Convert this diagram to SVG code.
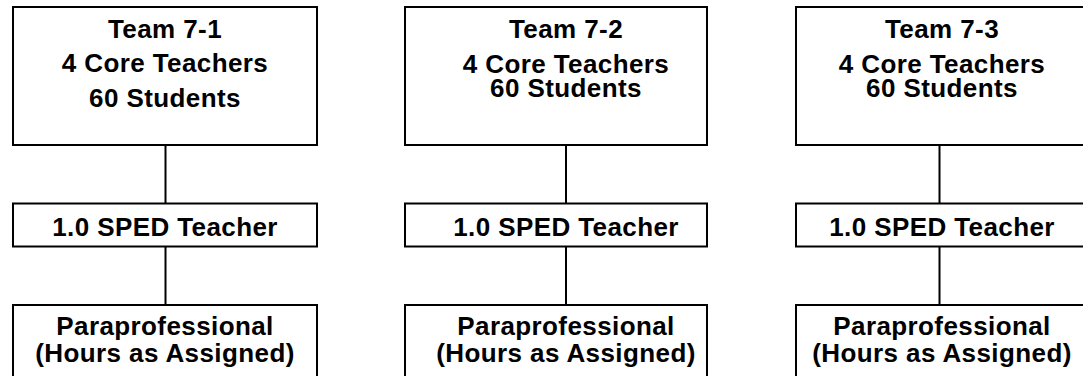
<svg xmlns="http://www.w3.org/2000/svg" width="1083" height="376" viewBox="0 0 1083 376">
<style>
.box{fill:#fff;stroke:#000;stroke-width:2}
.ln{stroke:#000;stroke-width:2;fill:none}
text{font-family:"Liberation Sans",Arial,sans-serif;font-weight:bold;font-size:26px;letter-spacing:0.4px;fill:#000;text-anchor:middle}
</style>
<rect width="1083" height="376" fill="#fff"/>
<g id="connectors">
<line class="ln" x1="165.5" y1="145" x2="165.5" y2="204"/>
<line class="ln" x1="165.5" y1="246" x2="165.5" y2="306"/>
<line class="ln" x1="566" y1="145" x2="566" y2="204"/>
<line class="ln" x1="566" y1="246" x2="566" y2="306"/>
<line class="ln" x1="939.5" y1="145" x2="939.5" y2="204"/>
<line class="ln" x1="939.5" y1="246" x2="939.5" y2="306"/>
</g>
<g id="team1">
<rect class="box" x="13" y="7" width="304" height="138"/>
<text x="165" y="37.7">Team 7-1</text>
<text x="165" y="72.3">4 Core Teachers</text>
<text x="165" y="106.7">60 Students</text>
</g>
<g id="sped1">
<rect class="box" x="13" y="203.5" width="304" height="43"/>
<text x="165" y="235.5">1.0 SPED Teacher</text>
</g>
<g id="para1">
<rect class="box" x="13" y="305" width="304" height="80"/>
<text x="165" y="335">Paraprofessional</text>
<text x="165" y="361.7">(Hours as Assigned)</text>
</g>
<g id="team2">
<rect class="box" x="405" y="7" width="302" height="138"/>
<text x="566" y="37.7">Team 7-2</text>
<text x="566" y="73">4 Core Teachers</text>
<text x="566" y="97.3">60 Students</text>
</g>
<g id="sped2">
<rect class="box" x="405" y="203.5" width="302" height="43"/>
<text x="566" y="235.5">1.0 SPED Teacher</text>
</g>
<g id="para2">
<rect class="box" x="405" y="305" width="302" height="80"/>
<text x="566" y="335">Paraprofessional</text>
<text x="566" y="361.7">(Hours as Assigned)</text>
</g>
<g id="team3">
<rect class="box" x="796" y="7" width="296" height="138"/>
<text x="942" y="37.7">Team 7-3</text>
<text x="942" y="73">4 Core Teachers</text>
<text x="942" y="97.3">60 Students</text>
</g>
<g id="sped3">
<rect class="box" x="796" y="203.5" width="296" height="43"/>
<text x="942" y="235.5">1.0 SPED Teacher</text>
</g>
<g id="para3">
<rect class="box" x="796" y="305" width="296" height="80"/>
<text x="942" y="335">Paraprofessional</text>
<text x="942" y="361.7">(Hours as Assigned)</text>
</g>
</svg>
